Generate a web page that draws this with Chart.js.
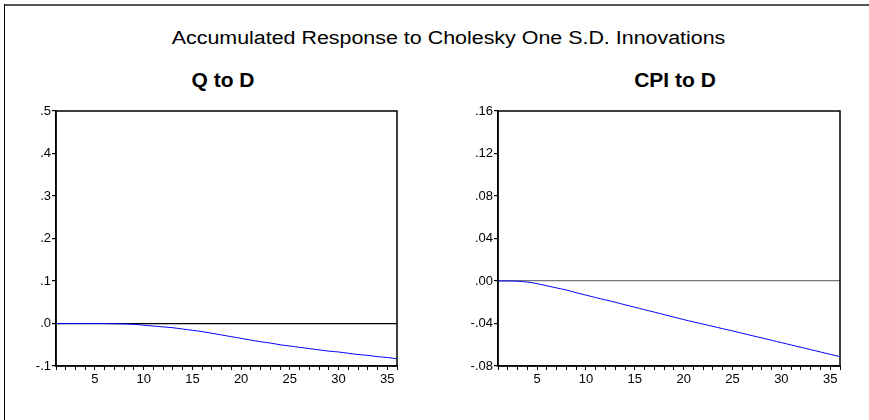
<!DOCTYPE html>
<html>
<head>
<meta charset="utf-8">
<script src="https://cdn.jsdelivr.net/npm/chart.js@4.4.1/dist/chart.umd.min.js"></script>
<style>
  body { margin: 0; background: #fff; }
  #page { position: relative; width: 869px; height: 420px; overflow: hidden; font-family: "Liberation Sans", Arial, sans-serif; }
  #frameTop { position: absolute; left: 4px; top: 4px; width: 865px; height: 2px; background: #555; }
  #frameLeft { position: absolute; left: 4px; top: 4px; width: 1px; height: 416px; background: #000; }
  .title { position: absolute; left: 14px; width: 869px; text-align: center; font-size: 18px; top: 28px; color: #000;
           transform: scaleX(1.19); }
  .sub { position: absolute; font-weight: bold; font-size: 21px; text-align: center; top: 68px; color: #000; }
  .wrap { position: absolute; top: 0; height: 420px; }
</style>
</head>
<body>
<div id="page">
  <div id="frameTop"></div>
  <div id="frameLeft"></div>
  <div class="title">Accumulated Response to Cholesky One S.D. Innovations</div>
  <div class="sub" style="left:123px;width:200px;">Q to D</div>
  <div class="sub" style="left:575px;width:200px;">CPI to D</div>
  <div class="wrap" style="left:0;width:434px;"><canvas id="chartQ"></canvas></div>
  <div class="wrap" style="left:434px;width:435px;"><canvas id="chartCPI"></canvas></div>
</div>
<script>
// periods 1..36
var periods = [];
for (var i = 1; i <= 36; i++) periods.push(i);

// accumulated response of Q to D
var qToD = [0, 0, 0, 0, 0, 0, -0.0005, -0.001, -0.002, -0.004,
  -0.006, -0.008, -0.010, -0.013, -0.016, -0.019, -0.023, -0.027, -0.031, -0.035,
  -0.039, -0.043, -0.046, -0.050, -0.053, -0.056, -0.059, -0.062, -0.065, -0.067,
  -0.070, -0.073, -0.075, -0.078, -0.080, -0.083];

// accumulated response of CPI to D
var cpiToD = [0, 0, -0.0002, -0.001, -0.0025, -0.0045, -0.0065, -0.0085, -0.011, -0.0133,
  -0.0156, -0.0178, -0.020, -0.0224, -0.0247, -0.0270, -0.0293, -0.0316, -0.0340, -0.0363,
  -0.0385, -0.0406, -0.0427, -0.0449, -0.0470, -0.0492, -0.0514, -0.0536, -0.0558, -0.0580,
  -0.0602, -0.0624, -0.0646, -0.0668, -0.0690, -0.0712];

var qTicks = [0.5, 0.4, 0.3, 0.2, 0.1, 0, -0.1];
var cpiTicks = [0.16, 0.12, 0.08, 0.04, 0, -0.04, -0.08];

// strip the leading zero like ".5" / "-.04"
function fmt(v, dec) {
  var s = Math.abs(v).toFixed(dec).replace(/^0/, '');
  return (v < -1e-9 ? '-' : '') + s;
}

var boxPlugin = {
  id: 'box',
  afterDraw: function(chart) {
    var a = chart.chartArea, ctx = chart.ctx;
    ctx.save();
    ctx.strokeStyle = '#000';
    ctx.lineWidth = 1.5;
    ctx.strokeRect(a.left, a.top, a.right - a.left, a.bottom - a.top);
    ctx.restore();
  }
};

function makeChart(id, values, yTicks, dec, yWidth, pad, zeroColor) {
  var data = periods.map(function(p, i) { return { x: p, y: values[i] }; });
  return new Chart(document.getElementById(id), {
    type: 'line',
    data: {
      datasets: [{
        data: data,
        borderColor: '#0000ff',
        borderWidth: 1,
        pointRadius: 0,
        tension: 0.3,
        fill: false
      }]
    },
    options: {
      responsive: true,
      maintainAspectRatio: false,
      animation: false,
      layout: { padding: pad },
      plugins: { legend: { display: false }, tooltip: { enabled: false } },
      scales: {
        x: {
          type: 'linear',
          min: 1,
          max: 36,
          afterBuildTicks: function(s) {
            s.ticks = periods.map(function(p) { return { value: p }; });
          },
          afterFit: function(s) { s.height = 30; },
          ticks: {
            autoSkip: false,
            maxRotation: 0,
            padding: 2,
            color: '#000',
            font: { family: '"Liberation Sans", Arial, sans-serif', size: 13 },
            callback: function(v) { return v % 5 === 0 ? String(v) : ''; }
          },
          grid: { drawOnChartArea: false, tickLength: 4, tickColor: '#000' },
          border: { color: '#000', width: 1.5 }
        },
        y: {
          min: yTicks[yTicks.length - 1],
          max: yTicks[0],
          afterBuildTicks: function(s) {
            s.ticks = yTicks.map(function(v) { return { value: v }; });
          },
          afterFit: function(s) { s.width = yWidth; },
          ticks: {
            padding: 1,
            color: '#000',
            font: { family: '"Liberation Sans", Arial, sans-serif', size: 13 },
            callback: function(v) { return fmt(v, dec); }
          },
          grid: {
            tickLength: 4,
            tickColor: '#000',
            color: function(c) { return c.tick && Math.abs(c.tick.value) < 1e-9 ? zeroColor : 'rgba(0,0,0,0)'; },
            lineWidth: 1.2
          },
          border: { color: '#000', width: 1.5 }
        }
      }
    },
    plugins: [boxPlugin]
  });
}

makeChart('chartQ', qToD, qTicks, 1, 30, { left: 26, top: 111, right: 37, bottom: 24 }, '#000');
makeChart('chartCPI', cpiToD, cpiTicks, 2, 36, { left: 28, top: 111, right: 29, bottom: 24 }, '#777');
</script>
</body>
</html>
